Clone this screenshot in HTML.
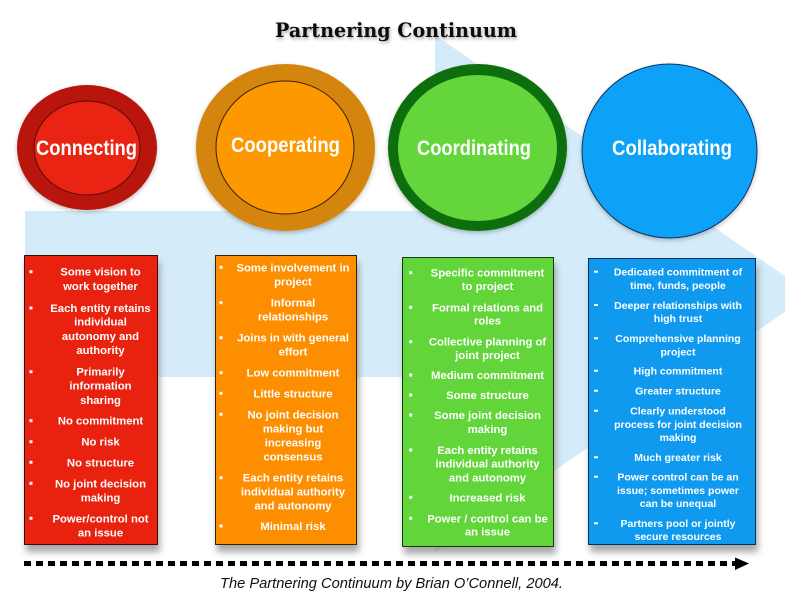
<!DOCTYPE html>
<html>
<head>
<meta charset="utf-8">
<style>
  html,body{margin:0;padding:0;background:#fff;}
  svg{display:block;}
  .t{font-family:"Liberation Sans",sans-serif;font-weight:bold;fill:#fff;text-anchor:middle;}
  .b1{font-size:11.3px;}
  .b2{font-size:10.5px;}
  .c{font-family:"Liberation Sans",sans-serif;font-weight:bold;fill:#fff;text-anchor:middle;font-size:21px;}
</style>
</head>
<body>
<svg width="785" height="601" viewBox="0 0 785 601" xmlns="http://www.w3.org/2000/svg">
  <defs>
    <filter id="sh" x="-20%" y="-20%" width="140%" height="140%">
      <feGaussianBlur stdDeviation="3.5"/>
    </filter>
    <filter id="tsh" x="-10%" y="-30%" width="120%" height="160%">
      <feDropShadow dx="1" dy="2" stdDeviation="1.5" flood-color="#000" flood-opacity="0.35"/>
    </filter>
    <filter id="csh" x="-20%" y="-20%" width="140%" height="140%">
      <feDropShadow dx="0" dy="2" stdDeviation="2" flood-color="#000" flood-opacity="0.25"/>
    </filter>
  </defs>

  <rect width="785" height="601" fill="#fff"/>

  <!-- big light blue arrow -->
  <polygon points="25,211 435,211 435,35 811,294 435,553 435,377 25,377" fill="#d4ecfa"/>

  <!-- title -->
  <text x="396" y="37" font-family="'DejaVu Serif','Liberation Serif',serif" font-weight="bold" font-size="20" fill="#111" text-anchor="middle" textLength="242" lengthAdjust="spacingAndGlyphs" filter="url(#tsh)">Partnering Continuum</text>

  <!-- circles -->
  <g filter="url(#csh)">
    <ellipse cx="87" cy="147.5" rx="70" ry="62.5" fill="#b8170c"/>
    <ellipse cx="285.5" cy="147.5" rx="89.5" ry="83.5" fill="#d4850e"/>
    <ellipse cx="477.5" cy="147.5" rx="89.5" ry="83.5" fill="#0b6e0c"/>
    <ellipse cx="669.5" cy="151" rx="87.5" ry="87" fill="#0ba1f7" stroke="#0b3566" stroke-width="1"/>
  </g>
  <ellipse cx="87" cy="148" rx="53" ry="47" fill="#ea2413" stroke="#5a0a05" stroke-width="1"/>
  <ellipse cx="285" cy="147.5" rx="69" ry="66.5" fill="#fe9800" stroke="#3a2000" stroke-width="1"/>
  <ellipse cx="477.5" cy="148" rx="79.5" ry="73" fill="#64d63c"/>

  <text class="c" x="86.5" y="155" textLength="101" lengthAdjust="spacingAndGlyphs">Connecting</text>
  <text class="c" x="285.5" y="152" textLength="109" lengthAdjust="spacingAndGlyphs">Cooperating</text>
  <text class="c" x="474" y="155" textLength="114" lengthAdjust="spacingAndGlyphs">Coordinating</text>
  <text class="c" x="672" y="155" textLength="120" lengthAdjust="spacingAndGlyphs">Collaborating</text>

  <!-- box shadows -->
  <g filter="url(#sh)" fill="#8a8a8a" opacity="0.75">
    <rect x="26" y="262" width="134" height="290"/>
    <rect x="217" y="262" width="142" height="290"/>
    <rect x="404" y="264" width="152" height="290"/>
    <rect x="590" y="265" width="168" height="287"/>
  </g>

  <!-- boxes -->
  <rect x="24.5" y="255.5" width="133" height="289" fill="#e9220f" stroke="#3a0d06" stroke-width="1"/>
  <rect x="215.5" y="255.5" width="141" height="289" fill="#fd8e00" stroke="#3a2200" stroke-width="1"/>
  <rect x="402.5" y="257.5" width="151" height="289" fill="#62d53a" stroke="#163a0c" stroke-width="1"/>
  <rect x="588.5" y="258.5" width="167" height="286" fill="#0f9af0" stroke="#0b2d55" stroke-width="1"/>

  <!-- red bullets -->
  <g fill="#fff">
    <rect x="29.5" y="270.2" width="3" height="3"/>
    <rect x="29.5" y="306.5" width="3" height="3"/>
    <rect x="29.5" y="370.2" width="3" height="3"/>
    <rect x="29.5" y="419.2" width="3" height="3"/>
    <rect x="29.5" y="440.2" width="3" height="3"/>
    <rect x="29.5" y="460.8" width="3" height="3"/>
    <rect x="29.5" y="481.8" width="3" height="3"/>
    <rect x="29.5" y="516.8" width="3" height="3"/>
  </g>
  <g class="t b1">
    <text x="100.5" y="275.7">Some vision to</text>
    <text x="100.5" y="290">work together</text>
    <text x="100.5" y="312">Each entity retains</text>
    <text x="100.5" y="325.7">individual</text>
    <text x="100.5" y="340">autonomy and</text>
    <text x="100.5" y="354">authority</text>
    <text x="100.5" y="375.7">Primarily</text>
    <text x="100.5" y="389.7">information</text>
    <text x="100.5" y="404">sharing</text>
    <text x="100.5" y="424.7">No commitment</text>
    <text x="100.5" y="445.7">No risk</text>
    <text x="100.5" y="466.3">No structure</text>
    <text x="100.5" y="487.3">No joint decision</text>
    <text x="100.5" y="501.7">making</text>
    <text x="100.5" y="522.3">Power/control not</text>
    <text x="100.5" y="536.3">an issue</text>
  </g>

  <!-- orange bullets -->
  <g fill="#fff">
    <rect x="219.5" y="265.8" width="3" height="3"/>
    <rect x="219.5" y="301.2" width="3" height="3"/>
    <rect x="219.5" y="336.2" width="3" height="3"/>
    <rect x="219.5" y="371.2" width="3" height="3"/>
    <rect x="219.5" y="391.8" width="3" height="3"/>
    <rect x="219.5" y="412.8" width="3" height="3"/>
    <rect x="219.5" y="476.2" width="3" height="3"/>
    <rect x="219.5" y="524.5" width="3" height="3"/>
  </g>
  <g class="t b1">
    <text x="293" y="271.3">Some involvement in</text>
    <text x="293" y="285.7">project</text>
    <text x="293" y="306.7">Informal</text>
    <text x="293" y="320.7">relationships</text>
    <text x="293" y="341.7">Joins in with general</text>
    <text x="293" y="355.7">effort</text>
    <text x="293" y="376.7">Low commitment</text>
    <text x="293" y="397.3">Little structure</text>
    <text x="293" y="418.3">No joint decision</text>
    <text x="293" y="432.3">making but</text>
    <text x="293" y="446.3">increasing</text>
    <text x="293" y="460.7">consensus</text>
    <text x="293" y="481.7">Each entity retains</text>
    <text x="293" y="495.7">individual authority</text>
    <text x="293" y="509.7">and autonomy</text>
    <text x="293" y="530">Minimal risk</text>
  </g>

  <!-- green bullets -->
  <g fill="#fff">
    <rect x="409.2" y="271.2" width="3" height="3"/>
    <rect x="409.2" y="305.8" width="3" height="3"/>
    <rect x="409.2" y="340.2" width="3" height="3"/>
    <rect x="409.2" y="373.5" width="3" height="3"/>
    <rect x="409.2" y="393.5" width="3" height="3"/>
    <rect x="409.2" y="413.5" width="3" height="3"/>
    <rect x="409.2" y="448.5" width="3" height="3"/>
    <rect x="409.2" y="495.8" width="3" height="3"/>
    <rect x="409.2" y="516.8" width="3" height="3"/>
  </g>
  <g class="t b1">
    <text x="487.5" y="276.7">Specific commitment</text>
    <text x="487.5" y="290">to project</text>
    <text x="487.5" y="311.3">Formal relations and</text>
    <text x="487.5" y="324.7">roles</text>
    <text x="487.5" y="345.7">Collective planning of</text>
    <text x="487.5" y="359">joint project</text>
    <text x="487.5" y="379">Medium commitment</text>
    <text x="487.5" y="399">Some structure</text>
    <text x="487.5" y="419">Some joint decision</text>
    <text x="487.5" y="433">making</text>
    <text x="487.5" y="454">Each entity retains</text>
    <text x="487.5" y="467.3">individual authority</text>
    <text x="487.5" y="481.3">and autonomy</text>
    <text x="487.5" y="501.3">Increased risk</text>
    <text x="487.5" y="522.3">Power / control can be</text>
    <text x="487.5" y="535.7">an issue</text>
  </g>

  <!-- blue bullets -->
  <g fill="#fff">
    <rect x="594" y="270.7" width="4" height="2"/>
    <rect x="594" y="304" width="4" height="2"/>
    <rect x="594" y="337.3" width="4" height="2"/>
    <rect x="594" y="369.7" width="4" height="2"/>
    <rect x="594" y="389.7" width="4" height="2"/>
    <rect x="594" y="409.7" width="4" height="2"/>
    <rect x="594" y="456.3" width="4" height="2"/>
    <rect x="594" y="475.7" width="4" height="2"/>
    <rect x="594" y="522.3" width="4" height="2"/>
  </g>
  <g class="t b2">
    <text x="678" y="275.5">Dedicated commitment of</text>
    <text x="678" y="288.8">time, funds, people</text>
    <text x="678" y="308.8">Deeper relationships with</text>
    <text x="678" y="322.1">high trust</text>
    <text x="678" y="342.1">Comprehensive planning</text>
    <text x="678" y="355.5">project</text>
    <text x="678" y="374.5">High commitment</text>
    <text x="678" y="394.5">Greater structure</text>
    <text x="678" y="414.5">Clearly understood</text>
    <text x="678" y="427.8">process for joint decision</text>
    <text x="678" y="441.1">making</text>
    <text x="678" y="461.1">Much greater risk</text>
    <text x="678" y="480.5">Power control can be an</text>
    <text x="678" y="493.8">issue; sometimes power</text>
    <text x="678" y="507.1">can be unequal</text>
    <text x="678" y="527.1">Partners pool or jointly</text>
    <text x="678" y="539.8">secure resources</text>
  </g>

  <!-- dotted arrow -->
  <line x1="24" y1="563.5" x2="735" y2="563.5" stroke="#000" stroke-width="5" stroke-dasharray="7 5"/>
  <polygon points="735,557.5 749,563.5 735,570" fill="#000"/>

  <!-- caption -->
  <text x="391.5" y="588" font-family="'Liberation Sans',sans-serif" font-style="italic" font-size="15" fill="#111" text-anchor="middle" textLength="343" lengthAdjust="spacingAndGlyphs">The Partnering Continuum by Brian O’Connell, 2004.</text>
</svg>
</body>
</html>
